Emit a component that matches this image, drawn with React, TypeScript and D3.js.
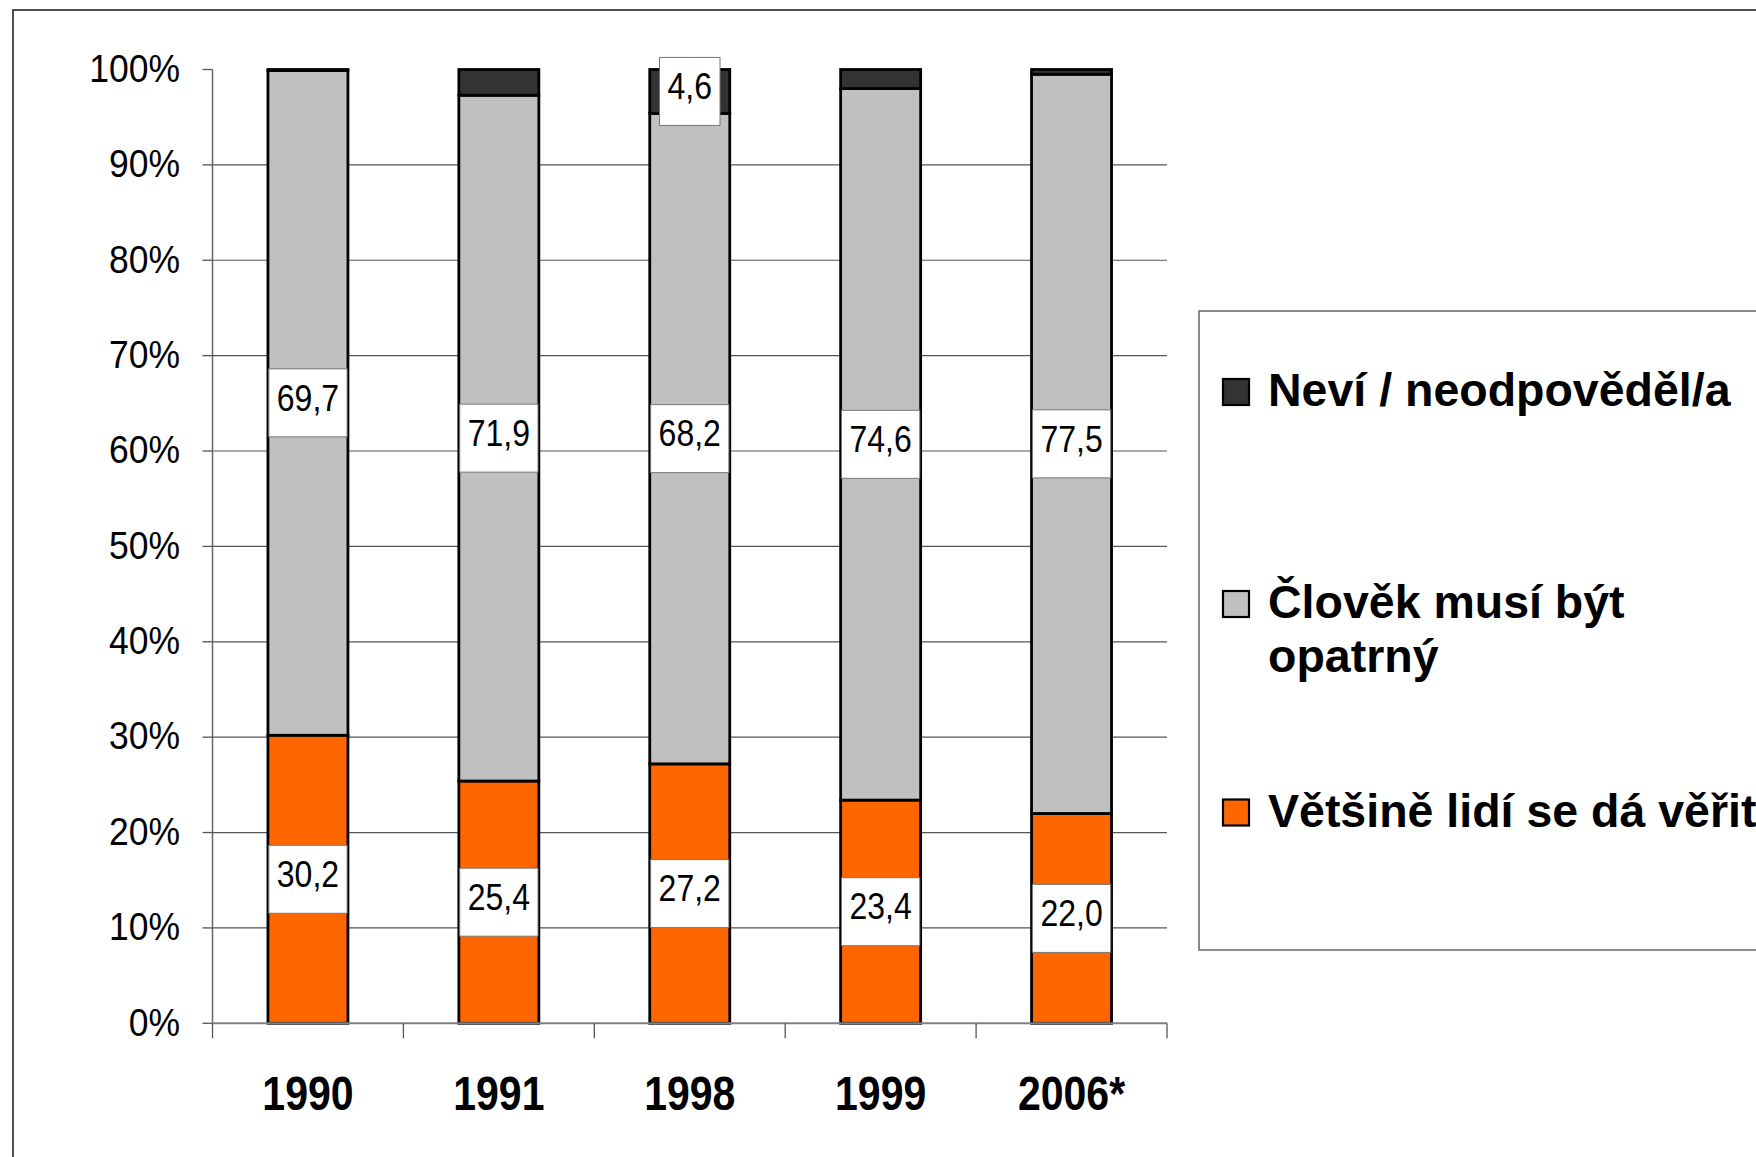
import React from "react";
import * as d3 from "d3";

const categories = ["1990", "1991", "1998", "1999", "2006*"];
const trustValues = [30.2, 25.4, 27.2, 23.4, 22.0];
const carefulValues = [69.7, 71.9, 68.2, 74.6, 77.5];
const dontKnowValues = [0.1, 2.7, 4.6, 2.0, 0.5];
const showDontKnowLabel = [false, false, true, false, false];
const yTicks = [0, 10, 20, 30, 40, 50, 60, 70, 80, 90, 100];
const legendLabels = [
  ["Neví / neodpověděl/a"],
  ["Člověk musí být", "opatrný"],
  ["Většině lidí se dá věřit"],
];

const COLORS = { trust: "#FF6600", careful: "#C0C0C0", dk: "#333333" };
const FONT = "'Liberation Sans', Arial, Helvetica, sans-serif";

function textW(s: string, size: number) {
  let w = 0;
  for (const c of s) w += c === "," ? 0.278 : 0.556;
  return w * size;
}

export default function App() {
  const W = 1756, H = 1157;
  const x0 = 212.5, x1 = 1167;
  const y = d3.scaleLinear().domain([0, 100]).range([1023.3, 69.5]);
  const x = d3.scaleBand<string>().domain(categories).range([x0, x1]).padding(0);
  const barW = 80;

  const stacks = categories.map((c, i) => {
    const segs = [
      { key: "trust", v: trustValues[i], color: COLORS.trust, label: true },
      { key: "careful", v: carefulValues[i], color: COLORS.careful, label: true },
      { key: "dk", v: dontKnowValues[i], color: COLORS.dk, label: showDontKnowLabel[i] },
    ];
    let acc = 0;
    return segs.map((s) => {
      const r = { ...s, y0: acc, y1: acc + s.v };
      acc += s.v;
      return r;
    });
  });

  const labelSize = 32;
  const fmt = (v: number) => v.toFixed(1).replace(".", ",");

  const legendItems = [
    { color: COLORS.dk, lines: legendLabels[0], sqY: 379, base: 405.7 },
    { color: COLORS.careful, lines: legendLabels[1], sqY: 591, base: 618.3 },
    { color: COLORS.trust, lines: legendLabels[2], sqY: 799.5, base: 826.7 },
  ];

  return (
    <div style={{ position: "absolute", left: 0, top: 0 }}>
      <svg width={W} height={H} style={{ display: "block", background: "#fff" }} fontFamily={FONT}>
        <rect x={0} y={0} width={W} height={H} fill="#fff" />
        <rect x={13} y={10} width={W + 50} height={H + 50} fill="none" stroke="#222" strokeWidth={1.6} />

        {/* gridlines */}
        {yTicks.filter((t) => t > 0 && t < 100).map((t) => (
          <line key={"g" + t} x1={x0} x2={x1} y1={y(t)} y2={y(t)} stroke="#555" strokeWidth={1.2} />
        ))}
        {/* y axis */}
        <line x1={x0} x2={x0} y1={y(100)} y2={y(0)} stroke="#666" strokeWidth={1.5} />
        {yTicks.map((t) => (
          <g key={"t" + t}>
            <line x1={x0 - 10} x2={x0} y1={y(t)} y2={y(t)} stroke="#555" strokeWidth={1.3} />
            <text
              transform={`translate(180,${y(t) + 12.3}) scale(1,1.1)`}
              textAnchor="end"
              fontSize={35.5}
              fill="#000"
            >
              {t + "%"}
            </text>
          </g>
        ))}

        {/* bars */}
        {stacks.map((segs, i) => {
          const cx = (x(categories[i]) as number) + x.bandwidth() / 2;
          return (
            <g key={"b" + i}>
              {segs.map((s) => (
                <rect
                  key={s.key}
                  x={cx - barW / 2}
                  y={y(s.y1)}
                  width={barW}
                  height={y(s.y0) - y(s.y1)}
                  fill={s.color}
                  stroke="#000"
                  strokeWidth={2.8}
                />
              ))}
            </g>
          );
        })}

        {/* x axis */}
        <line x1={x0} x2={x1} y1={y(0)} y2={y(0)} stroke="#808080" strokeWidth={2} />
        {[...categories.map((c) => x(c) as number), x1].map((px, i) => (
          <line key={"xt" + i} x1={px} x2={px} y1={y(0)} y2={y(0) + 15} stroke="#555" strokeWidth={1.3} />
        ))}
        {categories.map((c) => (
          <text
            key={"c" + c}
            transform={`translate(${(x(c) as number) + x.bandwidth() / 2},1110) scale(1,1.19)`}
            textAnchor="middle"
            fontSize={41}
            fontWeight="bold"
            fill="#000"
          >
            {c}
          </text>
        ))}

        {/* data labels */}
        {stacks.map((segs, i) => {
          const cx = (x(categories[i]) as number) + x.bandwidth() / 2;
          return segs
            .filter((s) => s.label)
            .map((s) => {
              const cy = y((s.y0 + s.y1) / 2);
              const str = fmt(s.v);
              const bw = textW(str, labelSize) + 16;
              const bh = 68;
              return (
                <g key={"l" + i + s.key}>
                  <rect x={cx - bw / 2} y={cy - bh / 2} width={bw} height={bh} fill="#fff" stroke="#777" strokeWidth={1} />
                  <text
                    transform={`translate(${cx},${cy + 7.7}) scale(1,1.15)`}
                    textAnchor="middle"
                    fontSize={labelSize}
                    fill="#000"
                  >
                    {str}
                  </text>
                </g>
              );
            });
        })}

        {/* legend */}
        <rect x={1199} y={311} width={700} height={639} fill="#fff" stroke="#666" strokeWidth={1.5} />
        {legendItems.map((it, i) => (
          <g key={"lg" + i}>
            <rect x={1223} y={it.sqY} width={26} height={26} fill={it.color} stroke="#000" strokeWidth={2.2} />
            {it.lines.map((ln, j) => (
              <text key={j} x={1268} y={it.base + j * 54} fontSize={46.5} fontWeight="bold" fill="#000">
                {ln}
              </text>
            ))}
          </g>
        ))}
      </svg>
    </div>
  );
}
